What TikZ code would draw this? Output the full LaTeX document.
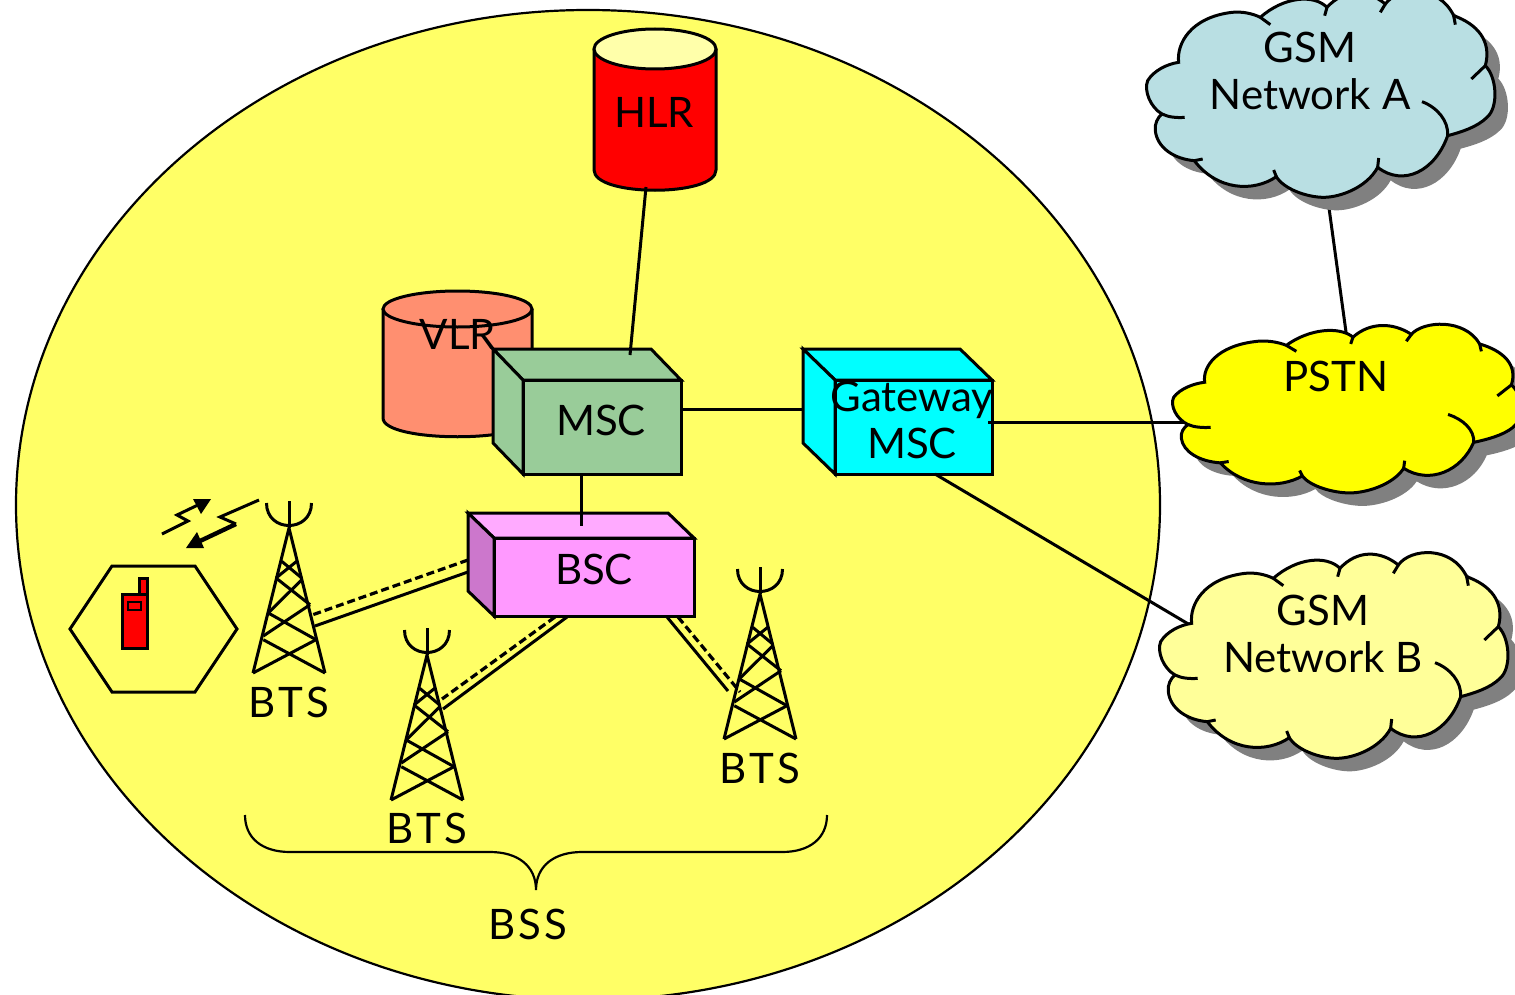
\documentclass[tikz,border=0pt]{standalone}
\usepackage{fontspec}
\setmainfont{Lato}
\usetikzlibrary{calc}
\definecolor{bssyellow}{HTML}{FFFF66}
\definecolor{cloudblue}{HTML}{B9DFE3}
\definecolor{cloudpale}{HTML}{FFFF99}
\definecolor{pstnyellow}{HTML}{FFFF00}
\definecolor{gwcyan}{HTML}{00FFFF}
\definecolor{vlrsalmon}{HTML}{FF8F70}
\definecolor{mscgreen}{HTML}{99CC99}
\definecolor{bscpink}{HTML}{FF99FF}
\definecolor{bsctop}{HTML}{FFAAFF}
\definecolor{bscside}{HTML}{CC77CC}
\definecolor{hlrtop}{HTML}{FFFFAA}
\tikzset{
	wire/.style={line width=1.5pt},
	dashwire/.style={line width=1.6pt, dash pattern=on 4pt off 2pt},
	txt/.style={font=\fontsize{21}{23.5}\selectfont, align=center, inner sep=0pt},
	widetxt/.style={font=\fontsize{21}{23.5}\selectfont\addfontfeature{LetterSpace=8}, inner sep=0pt},
}
\def\cloudoutline{(125,235) .. controls (118,180) and (160,100) .. (285,85) .. controls (315,82) and (345,88) .. (370,100)
	.. controls (440,38) and (530,30) .. (570,70) .. controls (620,15) and (690,15) .. (745,60)
	.. controls (780,10) and (905,0) .. (950,95) .. controls (1020,120) and (1065,170) .. (1045,245)
	.. controls (1080,280) and (1085,370) .. (1050,400) .. controls (1020,430) and (970,445) .. (932,455)
	.. controls (895,560) and (800,610) .. (722,550) .. controls (690,610) and (610,640) .. (560,640)
	.. controls (510,640) and (440,615) .. (418,578) .. controls (350,625) and (240,620) .. (172,530)
	.. controls (110,525) and (60,490) .. (55,440) .. controls (52,420) and (62,400) .. (75,390)
	.. controls (40,370) and (20,320) .. (32,290) .. controls (50,260) and (90,240) .. (125,235) -- cycle}
\def\cloudat(#1,#2)[#3]#4{
	\begin{scope}[shift={(#1,#2)}, xscale=1/3, yscale=#3/3]
		\fill[black!50] [shift={(39,{39/#3})}] \cloudoutline;
		\draw[wire, fill=#4] \cloudoutline;
		\draw[wire] (370,100) -- (400,122) (570,70) -- (563,95) (745,60) -- (730,85) (950,95) -- (955,122);
		\draw[wire] (1045,245) -- (1003,285) (722,550) -- (725,522) (418,578) -- (410,558) (172,530) -- (197,525);
		\draw[wire] (932,455) .. controls (935,410) and (900,370) .. (855,353);
		\draw[wire] (75,390) .. controls (95,400) and (120,402) .. (143,400);
	\end{scope}
}
\def\towerat(#1,#2){
	\begin{scope}[shift={(#1,#2)}, line width=1.5pt]
		\draw (-36,145) -- (0,0) -- (36,145);
		\draw (0,0) -- (0,-27);
		\draw (-22.5,-25) .. controls (-22.5,5) and (22.5,5) .. (22.5,-25);
		\draw (-25.7,111.7) -- (36,145) (27,111.7) -- (-36,145);
		\draw (-20.7,85) -- (27,111.7) (21,76.7) -- (-25.7,108);
		\draw (-13,50) -- (21,76.7) (12.7,51.7) -- (-20.7,85);
		\draw (-7.3,33.3) -- (12.7,50) (7.7,33.3) -- (-13,50);
	\end{scope}
}
\def\cubeat(#1,#2)(#3,#4)(#5,#6)[#7][#8][#9]{
	\draw[wire, fill=#8] (#1,#2) -- ($(#3,#2)-(#5,0)$) -- (#3,#2+#6) -- (#1+#5,#2+#6) -- cycle;
	\draw[wire, fill=#9] (#1,#2) -- (#1+#5,#2+#6) -- (#1+#5,#4) -- (#1,#4-#6) -- cycle;
	\draw[wire, fill=#7] (#1+#5,#2+#6) rectangle (#3,#4);
}
\begin{document}
\begin{tikzpicture}[x=0.5pt, y=-0.5pt]
	%%%%% START %%%%%
	\useasboundingbox (0,0) rectangle (1515,995);
	\clip (0,0) rectangle (1515,995);

	\draw[line width=1.1pt, fill=bssyellow] (588,505) circle [x radius=572, y radius=495];

	% databases
	\draw[wire, fill=vlrsalmon] (383,309) -- (383,418) .. controls (383,443) and (532,443) .. (532,418) -- (532,309);
	\draw[wire, fill=vlrsalmon] (457.5,309) circle [x radius=74.5, y radius=18];
	\draw[wire, fill=red] (594,49) -- (594,170) .. controls (594,197) and (716,197) .. (716,170) -- (716,49);
	\draw[wire, fill=hlrtop] (655,49) circle [x radius=61, y radius=20];
	\node[txt] (vlrtext) at (458,334) {VLR};
	\node[txt] (hlrtext) at (654,112) {HLR};

	% connectors between the switches
	\coordinate (hlrfoot) at (646,187);
	\coordinate (mscroof) at (630,355);
	\coordinate (mscfloor) at (581,474);
	\coordinate (bscroof) at (581,526);
	\coordinate (mscright) at (681,409);
	\coordinate (gwleft) at (803,409);
	\coordinate (gwright) at (988,422);
	\coordinate (gwfloor) at (935,474);
	\coordinate (pstnleft) at (1185,422);
	\coordinate (pstntop) at (1346,332);
	\coordinate (netafoot) at (1329,208);
	\coordinate (netbleft) at (1190,625);

	% switches
	\cubeat(493,349)(681,474)(30,31)[mscgreen][mscgreen][mscgreen]
	\cubeat(803,349)(992,474)(32,31)[gwcyan][gwcyan][gwcyan]
	\cubeat(468,513)(694,616)(26,25)[bscpink][bsctop][bscside]
	\draw[wire] (hlrfoot) -- (mscroof);
	\draw[wire] (mscfloor) -- (bscroof);
	\draw[wire] (mscright) -- (gwleft);
	\node[txt] (msctext) at (601,420) {MSC};
	\node[txt] (bsctext) at (594,569) {BSC};
	\node[txt] (gwtext) at (912,420) {Gateway\\MSC};

	% towers
	\towerat(289,528)
	\towerat(427,655)
	\towerat(760,594)
	\node[widetxt] (btsa) at (289,702) {BTS};
	\node[widetxt] (btsb) at (427,828) {BTS};
	\node[widetxt] (btsc) at (760,768) {BTS};

	\coordinate (bscwa) at (468,572);
	\coordinate (bscda) at (468,560);
	\coordinate (towawire) at (315,626);
	\coordinate (towadash) at (312,615);
	\coordinate (bscwb) at (567,617);
	\coordinate (bscdb) at (555,617);
	\coordinate (towbwire) at (443,709);
	\coordinate (towbdash) at (442,699);
	\coordinate (bscwc) at (667,617);
	\coordinate (bscdc) at (678,617);
	\coordinate (towcwire) at (728,691);
	\coordinate (towcdash) at (740,692);
	\draw[wire] (bscwa) -- (towawire);
	\draw[dashwire] (bscda) -- (towadash);
	\draw[wire] (bscwb) -- (towbwire);
	\draw[dashwire] (bscdb) -- (towbdash);
	\draw[wire] (bscwc) -- (towcwire);
	\draw[dashwire] (bscdc) -- (towcdash);

	% cell and handset
	\draw[wire] (70,629) -- (112,566) -- (195,566) -- (237,629) -- (195,692) -- (112,692) -- cycle;
	\draw[wire, fill=red] (139,578) rectangle (147,594);
	\draw[wire, fill=red] (122,594) rectangle (147,648);
	\draw[line width=1.2pt] (128,602) rectangle (141,610);

	% radio link
	\draw[wire] (162,534) -- (188,521) -- (177,515) -- (200,504);
	\fill (193,499) -- (211,499) -- (201,514) -- cycle;
	\draw[wire] (259,500) -- (220,517) -- (236,524);
	\draw[line width=2.2pt] (236,524) -- (200,541);
	\fill (186,548) -- (204,548) -- (197,532) -- cycle;

	% brace
	\draw[line width=1.1pt] (245,815) .. controls (245,838) and (262,852) .. (290,852) -- (490,852) .. controls (518,852) and (536,866) .. (536,890)
		.. controls (536,866) and (554,852) .. (582,852) -- (782,852) .. controls (810,852) and (827,838) .. (827,815);
	\node[widetxt] (bsstext) at (528,924) {BSS};

	% outside networks
	\draw[wire] (netafoot) -- (pstntop);
	\draw[wire] (gwright) -- (pstnleft);
	\draw[wire] (gwfloor) -- (netbleft);
	\cloudat(1137,-16)[1]{cloudblue}
	\cloudat(1163,318)[0.82]{pstnyellow}
	\cloudat(1150,545)[1]{cloudpale}
	\node[txt] (netatext) at (1310,71) {GSM\\Network A};
	\node[txt] (pstntext) at (1336,376) {PSTN};
	\node[txt] (netbtext) at (1323,634) {GSM\\Network B};
	%%%%% END %%%%%
\end{tikzpicture}
\end{document}
